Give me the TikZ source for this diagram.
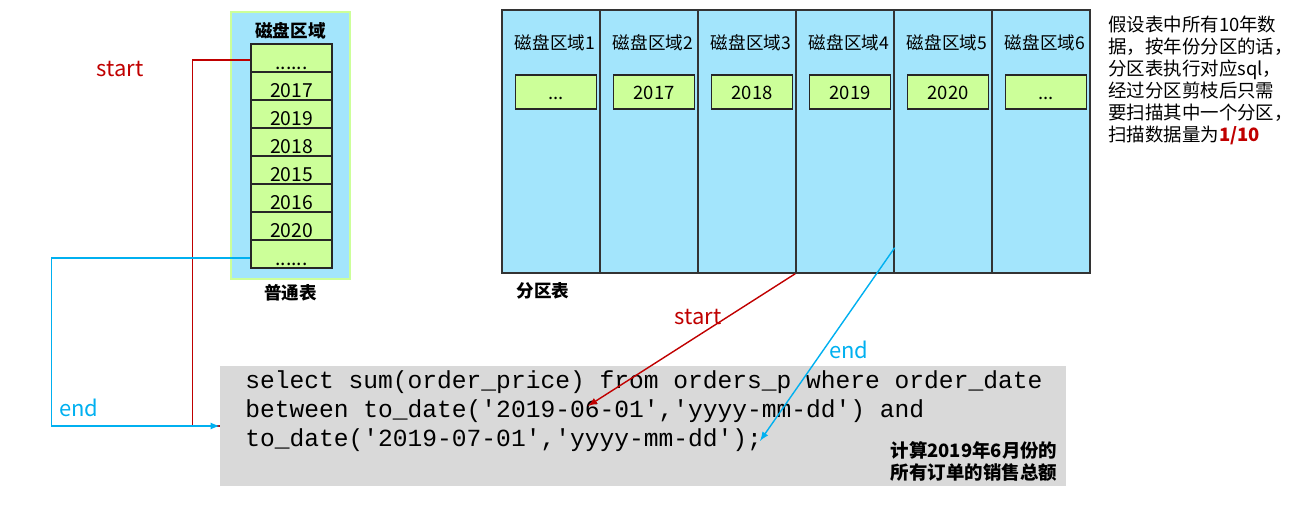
\documentclass[tikz,border=0pt]{standalone}
\usepackage{fontspec}
\setmainfont{Noto Sans CJK SC}
\setmonofont{Liberation Mono}
\usetikzlibrary{positioning}

\definecolor{diskblue}{RGB}{163,229,252}
\definecolor{cellgreen}{RGB}{204,255,153}
\definecolor{startred}{RGB}{192,0,0}
\definecolor{endblue}{RGB}{0,176,240}
\definecolor{sqlgray}{RGB}{217,217,217}

\tikzset{
	Disk/.style={draw=cellgreen, line width=1.2pt, fill=diskblue},
	Row/.style={draw=black!85, line width=0.8pt, fill=cellgreen, minimum width=1.62cm, minimum height=0.56cm, inner sep=0pt, text height=0.49cm, text depth=0.03cm, font=\fontsize{11}{13}\selectfont},
	Part/.style={draw=black!80, line width=0.8pt, fill=diskblue, minimum width=1.96cm, minimum height=5.26cm, inner sep=0pt},
	Cell/.style={draw=black!85, line width=0.8pt, fill=cellgreen, minimum width=1.62cm, minimum height=0.68cm, inner sep=0pt, text height=0.32cm, text depth=0cm, font=\fontsize{10.5}{12}\selectfont},
	Title/.style={font=\bfseries\fontsize{10}{12}\selectfont, inner sep=0pt},
	Label/.style={font=\fontsize{10}{12}\selectfont, inner sep=0pt},
	Sql/.style={font=\ttfamily\fontsize{14}{17}\selectfont, inner sep=0pt, anchor=base west},
	Start/.style={startred, line width=0.8pt},
	End/.style={endblue, line width=0.8pt},
	Mark/.style={font=\fontsize{12.5}{14}\selectfont, inner sep=0pt}
}

\begin{document}
\begin{tikzpicture}[x=0.02cm,y=-0.02cm]
\useasboundingbox (0,0) rectangle (1298,509);

%normal table
\node[Disk, minimum width=2.38cm, minimum height=5.34cm] (disk) at (290.5,145.5) {};
\node[Title] (disktitle) at (290.5,31) {磁盘区域};
\node[Row] (r1) at (291.5,58) {......};
\node[Row] (r2) at (291.5,86) {2017};
\node[Row] (r3) at (291.5,114) {2019};
\node[Row] (r4) at (291.5,142) {2018};
\node[Row] (r5) at (291.5,170) {2015};
\node[Row] (r6) at (291.5,198) {2016};
\node[Row] (r7) at (291.5,226) {2020};
\node[Row] (r8) at (291.5,254) {......};
\node[Title] (normal) at (290.5,293) {普通表};

%partition table
\node[Part] (col1) at (551,141.5) {};
\node[Part] (col2) at (649,141.5) {};
\node[Part] (col3) at (747,141.5) {};
\node[Part] (col4) at (845,141.5) {};
\node[Part] (col5) at (943,141.5) {};
\node[Part] (col6) at (1041,141.5) {};

\node[Label] (lab1) at (555,43) {磁盘区域1};
\node[Label] (lab2) at (653,43) {磁盘区域2};
\node[Label] (lab3) at (751,43) {磁盘区域3};
\node[Label] (lab4) at (849,43) {磁盘区域4};
\node[Label] (lab5) at (947,43) {磁盘区域5};
\node[Label] (lab6) at (1045,43) {磁盘区域6};

\node[Cell] (p1) at (556,92) {...};
\node[Cell] (p2) at (654,92) {2017};
\node[Cell] (p3) at (752,92) {2018};
\node[Cell] (p4) at (850,92) {2019};
\node[Cell] (p5) at (948,92) {2020};
\node[Cell] (p6) at (1046,92) {...};

\node[Title] (parttitle) at (543,291) {分区表};

%note
\node[anchor=north west, inner sep=0pt, align=left, font=\fontsize{10.5}{12.5}\selectfont] (note) at (1108,16)
{假设表中所有10年数\\据，按年份分区的话，\\分区表执行对应sql，\\经过分区剪枝后只需\\要扫描其中一个分区，\\扫描数据量为{\bfseries\color{startred}1/10}};

%sql
\node[fill=sqlgray, minimum width=16.92cm, minimum height=2.4cm, inner sep=0pt] (sqlbox) at (643,426) {};
\node[Sql] (sql1) at (245,389) {select sum(order\_price) from orders\_p where order\_date};
\node[Sql] (sql2) at (245,418) {between to\_date('2019-06-01','yyyy-mm-dd') and};
\node[Sql] (sql3) at (245,447) {to\_date('2019-07-01','yyyy-mm-dd');};
\node[Title, align=center, font=\bfseries\fontsize{10.5}{12.5}\selectfont] (goal) at (974,461) {计算2019年6月份的\\所有订单的销售总额};

%scan lines
\coordinate (startend) at (588,406);
\coordinate (endend) at (760,441);
\draw[Start] ([yshift=-0.04cm]r1.west) -- ++(-58,0) |- (sqlbox.west);
\draw[End,-latex] ([yshift=-0.08cm]r8.west) -- ++(-199,0) |- (sqlbox.west);
\draw[Start,-latex] (col4.south west) -- (startend);
\draw[End,-latex] ([yshift=0.52cm]col4.south east) -- (endend);

\node[Mark, startred] (start1) at (120,69) {start};
\node[Mark, endblue] (end1) at (79,408) {end};
\node[Mark, startred] (start2) at (698,317) {start};
\node[Mark, endblue] (end2) at (849,350) {end};
\end{tikzpicture}
\end{document}
